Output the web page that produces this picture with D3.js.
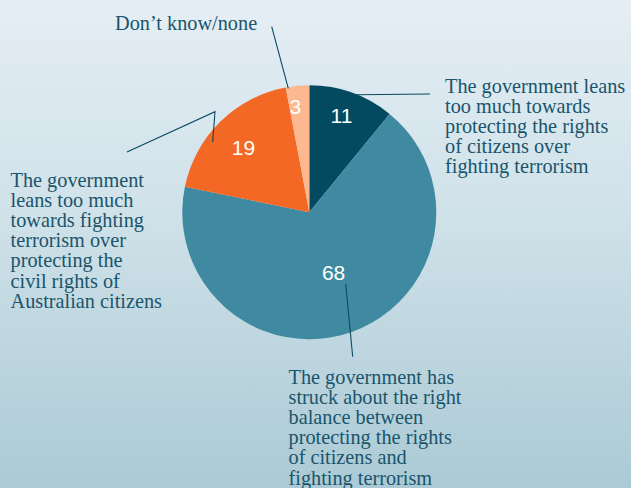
<!DOCTYPE html>
<html>
<head>
<meta charset="utf-8">
<script src="https://cdn.jsdelivr.net/npm/d3@7"></script>
<style>
  html, body { margin: 0; padding: 0; }
  svg { display: block; }
</style>
</head>
<body>
<svg id="chart" width="631" height="488"></svg>
<script>
// Survey responses (percent)
const categories = [
  "The government leans too much towards protecting the rights of citizens over fighting terrorism",
  "The government has struck about the right balance between protecting the rights of citizens and fighting terrorism",
  "The government leans too much towards fighting terrorism over protecting the civil rights of Australian citizens",
  "Don’t know/none"
];
const values = [11, 68, 19, 3];
const colors = ["#034a61", "#3f8aa1", "#f36824", "#fcb88f"];

// Wrapped caption lines for each slice
const captionLines = [
  ["The government leans", "too much towards", "protecting the rights", "of citizens over", "fighting terrorism"],
  ["The government has", "struck about the right", "balance between", "protecting the rights", "of citizens and", "fighting terrorism"],
  ["The government", "leans too much", "towards fighting", "terrorism over", "protecting the", "civil rights of", "Australian citizens"],
  ["Don’t know/none"]
];

const W = 631, H = 488;
const cx = 309.3, cy = 212.3, R = 127;
const textColor = "#1a556b";
const lineColor = "#0b4a62";

const svg = d3.select("#chart");

// Background wash
const defs = svg.append("defs");
const grad = defs.append("linearGradient")
  .attr("id", "bg").attr("x1", 0).attr("y1", 0).attr("x2", 0).attr("y2", 1);
grad.append("stop").attr("offset", "0%").attr("stop-color", "#e5eef4");
grad.append("stop").attr("offset", "45%").attr("stop-color", "#cfe1e9");
grad.append("stop").attr("offset", "100%").attr("stop-color", "#abcad5");
svg.append("rect").attr("width", W).attr("height", H).attr("fill", "url(#bg)");

const pie = d3.pie().sort(null).value(d => d);
const arcs = pie(values);
const arc = d3.arc().innerRadius(0).outerRadius(R);

const g = svg.append("g").attr("transform", `translate(${cx},${cy})`);

g.selectAll("path.slice")
  .data(arcs)
  .join("path")
  .attr("class", "slice")
  .attr("d", arc)
  .attr("fill", (d, i) => colors[i]);

// Value labels inside slices: radius (fraction of R) and angular offset within slice
const valueLabelPos = [
  { r: 0.80, t: 0.47 },
  { r: 0.51, t: 0.49 },
  { r: 0.73, t: 0.49 },
  { r: 0.84, t: 0.30 }
];
const polar = (a, r) => [Math.sin(a) * r, -Math.cos(a) * r];

g.selectAll("text.val")
  .data(arcs)
  .join("text")
  .attr("class", "val")
  .attr("transform", (d, i) => {
    const p = valueLabelPos[i];
    const a = d.startAngle + (d.endAngle - d.startAngle) * p.t;
    const [x, y] = polar(a, R * p.r);
    return `translate(${x},${y})`;
  })
  .attr("text-anchor", "middle")
  .attr("dominant-baseline", "central")
  .attr("font-family", "Liberation Sans, Arial, sans-serif")
  .attr("font-size", 21)
  .attr("fill", "#ffffff")
  .text(d => d.data);

// Leader lines: anchor inside slice (angle fraction, radius fraction) then points out to caption
const leaders = [
  { t: 0.55, r: 0.995, pts: [[430, 94]] },
  { t: 0.47, r: 0.635, pts: [[352.7, 356.7]] },
  { t: 0.36, r: 0.94, pts: [[215, 111.7], [127, 152]] },
  { t: 0.10, r: 0.99, pts: [[271.7, 26.7]] }
];

const lineGen = d3.line();
leaders.forEach((L, i) => {
  const d = arcs[i];
  const a = d.startAngle + (d.endAngle - d.startAngle) * L.t;
  const [x, y] = polar(a, R * L.r);
  const pts = [[cx + x, cy + y]].concat(L.pts);
  svg.append("path")
    .attr("d", lineGen(pts))
    .attr("fill", "none")
    .attr("stroke", lineColor)
    .attr("stroke-width", 1.1);
});

// Captions
const captionPos = [
  { x: 445, y: 92.5 },
  { x: 288.5, y: 384 },
  { x: 10.5, y: 187 },
  { x: 115, y: 30 }
];
const lineH = 20.1;

captionLines.forEach((lines, i) => {
  const t = svg.append("text")
    .attr("font-family", "Liberation Serif, 'Times New Roman', serif")
    .attr("font-size", 20.3)
    .attr("fill", textColor)
    .attr("x", captionPos[i].x)
    .attr("y", captionPos[i].y);
  t.selectAll("tspan")
    .data(lines)
    .join("tspan")
    .attr("x", captionPos[i].x)
    .attr("dy", (d, j) => j === 0 ? 0 : lineH)
    .text(d => d);
  t.append("title").text(categories[i]);
});
</script>
</body>
</html>
